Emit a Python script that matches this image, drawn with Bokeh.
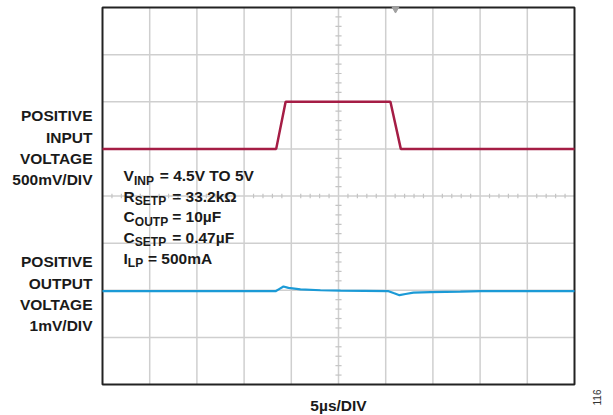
import math
from bokeh.plotting import figure
from bokeh.models import Label
from bokeh.embed import file_html
from bokeh.resources import INLINE

# ---- data ----
time_in_us = [0.0, 18.4, 19.4, 30.5, 31.6, 50.0]
input_v = [4.5, 4.5, 5.0, 5.0, 4.5, 4.5]

time_out_us = [0.0, 18.33, 18.75, 19.17, 19.70, 20.97, 23.09, 25.21, 30.30, 30.83,
               31.46, 32.10, 32.94, 34.75, 37.92, 40.04, 50.0]
output_dev_mv = [0.0, 0.0, 0.05, 0.10, 0.07, 0.04, 0.02, 0.01, 0.0, -0.04,
                 -0.085, -0.06, -0.03, -0.02, -0.01, 0.0, 0.0]

us_per_div = 5.0
in_v_per_div = 0.5
in_v_base = 4.5
in_base_div = 5.0
out_mv_per_div = 1.0
out_base_div = 1.98

n_xdiv = 10
n_ydiv = 8

FONT = "Liberation Sans"

# screen layout of the graticule (page pixels)
W, H = 613, 415
GL, GR, GT, GB = 102.0, 574.0, 7.0, 384.0
sx = (GR - GL) / n_xdiv
sy = (GB - GT) / n_ydiv
TXT_SHIFT = 6.5  # renderer baseline offset correction


def px(x):
    return (x - GL) / sx


def py(y):
    return (GB - y) / sy


xin = [t / us_per_div for t in time_in_us]
yin = [in_base_div + (v - in_v_base) / in_v_per_div for v in input_v]
xout = [t / us_per_div for t in time_out_us]
yout = [out_base_div + d / out_mv_per_div for d in output_dev_mv]

p = figure(width=W, height=H, x_range=(px(0), px(W)), y_range=(py(H), py(0)),
           x_axis_type=None, y_axis_type=None, toolbar_location=None,
           output_backend="svg", min_border=0, min_border_left=0,
           min_border_right=0, min_border_top=0, min_border_bottom=0)
p.outline_line_color = None
p.background_fill_color = "white"
p.border_fill_color = "white"

# graticule
gxs = list(range(1, n_xdiv))
p.segment(x0=gxs, x1=gxs, y0=[0] * len(gxs), y1=[n_ydiv] * len(gxs),
          line_color="#cfcfcf", line_width=1.5)
gys = list(range(1, n_ydiv))
p.segment(x0=[0] * len(gys), x1=[n_xdiv] * len(gys), y0=gys, y1=gys,
          line_color="#cfcfcf", line_width=1.5)

# minor ticks on center crosshair
mx = [i * 0.2 for i in range(1, 5 * n_xdiv) if i % 5 != 0]
p.segment(x0=mx, x1=mx, y0=[4 - 0.05] * len(mx), y1=[4 + 0.05] * len(mx),
          line_color="#c4c4c4", line_width=1.2)
my = [i * 0.2 for i in range(1, 5 * n_ydiv) if i % 5 != 0]
p.segment(x0=[5 - 0.065] * len(my), x1=[5 + 0.065] * len(my), y0=my, y1=my,
          line_color="#c4c4c4", line_width=1.2)

# frame outline
p.quad(left=[0], right=[n_xdiv], bottom=[0], top=[n_ydiv], fill_color=None,
       line_color="#222222", line_width=2)

p.line(xin, yin, line_color="#a51d45", line_width=2.5)
p.line(xout, yout, line_color="#1b9ad6", line_width=2.2)

# trigger marker
p.scatter([px(395)], [py(8.5)], marker="inverted_triangle", size=7,
          fill_color="#a0a0a0", line_color="#a0a0a0")


def lab(text, x, y, size="15.5px", bold=True, align="left", angle=0.0, color="#1a1a1a"):
    p.add_layout(Label(x=px(x), y=py(y), text=text, text_font=FONT,
                       text_font_size=size,
                       text_font_style="bold" if bold else "normal",
                       text_align=align, text_baseline="alphabetic",
                       angle=angle, text_color=color))


for t, yb in zip(["POSITIVE", "INPUT", "VOLTAGE", "500mV/DIV"], [121.7, 143, 164.3, 185.6]):
    lab(t, 92, yb - TXT_SHIFT, align="right")
for t, yb in zip(["POSITIVE", "OUTPUT", "VOLTAGE", "1mV/DIV"], [267.7, 289, 310.3, 331.6]):
    lab(t, 92, yb - TXT_SHIFT, align="right")

ann = [
    ("V", "INP", "= 4.5V TO 5V", 133.5, 159.3, 181.7),
    ("R", "SETP", "= 33.2k\u03a9", 134.3, 171.7, 202.2),
    ("C", "OUTP", "= 10\u00b5F", 134.3, 171.7, 222.7),
    ("C", "SETP", "= 0.47\u00b5F", 134.3, 171.7, 243.3),
    ("I", "LP", "= 500mA", 127.3, 147.5, 264.0),
]
for main, sub, rest, xs, xr, yb in ann:
    lab(main, 123, yb - TXT_SHIFT)
    lab(sub, xs, yb + 5 - TXT_SHIFT, size="12px")
    lab(rest, xr, yb - TXT_SHIFT)

lab("5\u00b5s/DIV", 338, 411.5 - TXT_SHIFT, align="center")
lab("116", 603 - TXT_SHIFT, 397, size="10px", bold=False, align="center",
    angle=math.pi / 2, color="#333333")

open("out.html", "w").write(file_html(p, INLINE))
